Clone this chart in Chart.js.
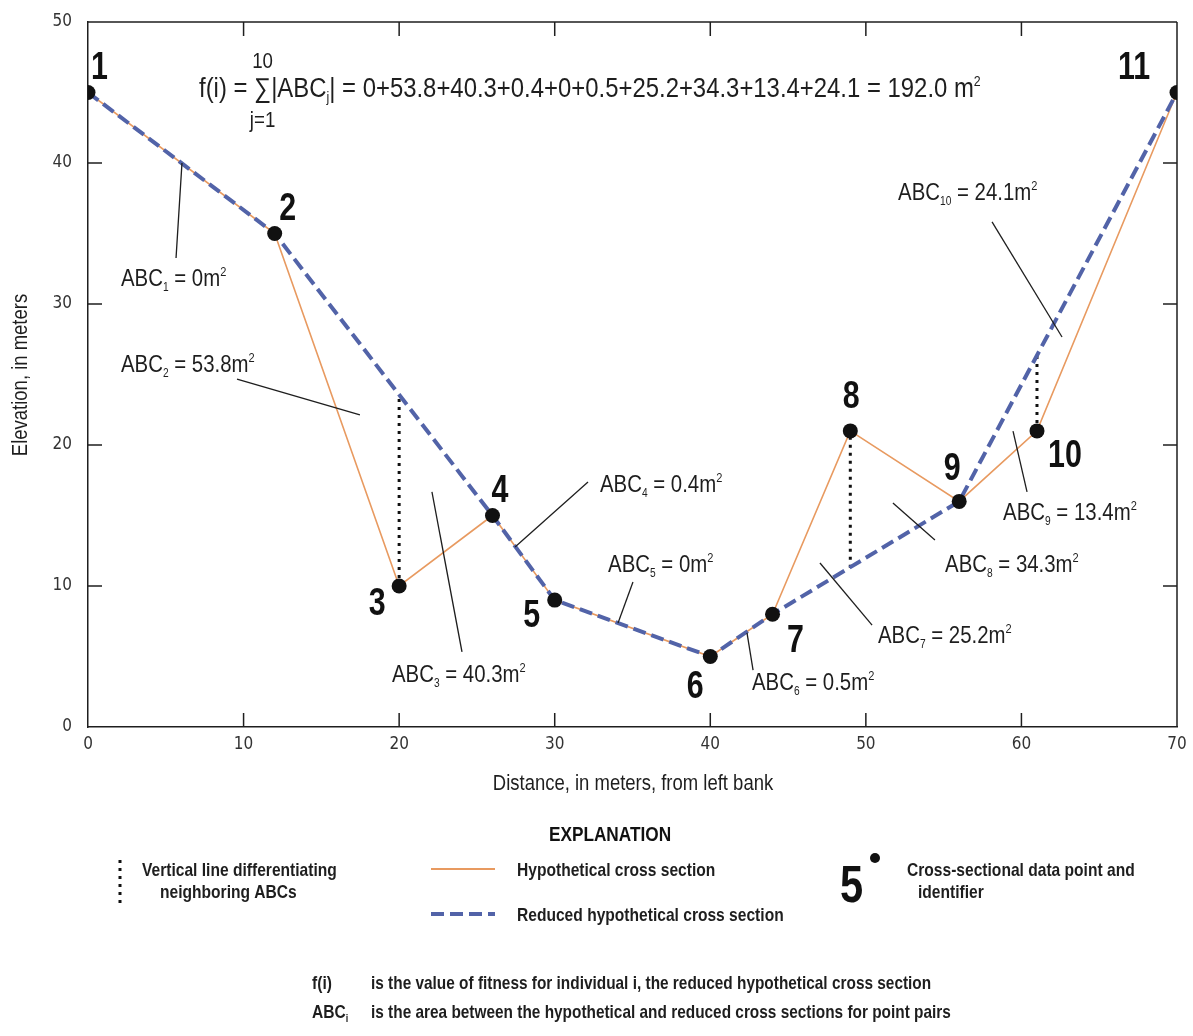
<!DOCTYPE html>
<html><head><meta charset="utf-8">
<script src="https://cdn.jsdelivr.net/npm/chart.js@4.4.1/dist/chart.umd.min.js"></script>
<style>html,body{margin:0;padding:0;background:#fff;}canvas{display:block;}</style>
</head><body>
<canvas id="c" width="1193" height="1036"></canvas>
<script>
// ---------------- DATA ----------------
const pointIds = ['1','2','3','4','5','6','7','8','9','10','11'];
const distance = [0, 12, 20, 26, 30, 40, 44, 49, 56, 61, 70];
const elevation = [45, 35, 10, 15, 9, 5, 8, 21, 16, 21, 45];
const reducedDistance = [0, 12, 26, 30, 40, 44, 56, 70];
const reducedElevation = [45, 35, 15, 9, 5, 8, 16, 45];
const dividerDistance = [20, 49, 61];
const dividerLow = [10, 11.3, 21];
const dividerHigh = [23.6, 21, 26.4];
const abcNames = ['1','2','3','4','5','6','7','8','9','10'];
const abcValues = ['0','53.8','40.3','0.4','0','0.5','25.2','34.3','13.4','24.1'];
const fitnessTotal = '192.0';
const xTicks = [0, 10, 20, 30, 40, 50, 60, 70];
const yTicks = [0, 10, 20, 30, 40, 50];

// ---------------- ANNOTATION LAYOUT ----------------
const numberOffsets = [[11.5,-13.5],[13,-13.5],[-22,29],[7.5,-13.5],[-23,27],[-15,41],[23,38],[1,-23],[-7,-21],[28,36],[-43,-13.5]];
const abcLabelPos = [[2.12,31.28],[2.12,25.18],[19.54,3.19],[32.91,16.67],[33.43,10.99],[42.68,2.62],[50.78,5.96],[55.09,10.99],[58.82,14.68],[52.07,37.38]];
const abcLeaders = [[6.04,40.0,5.66,33.26],[9.58,24.68,17.48,22.13],[22.11,16.67,24.04,5.32],[27.45,12.77,32.14,17.38],[35.03,10.28,34.07,7.38],[42.36,6.67,42.75,4.04],[47.05,11.63,50.40,7.23],[51.74,15.89,54.44,13.26],[59.46,20.99,60.36,16.67],[58.11,35.82,62.61,27.66]];

const FONT = "'Liberation Sans', Arial, sans-serif";
const TICKFONT = "'Liberation Sans Narrow','DejaVu Sans Condensed','Liberation Sans',sans-serif";
const SX = 0.85;
const ORANGE = '#E89A60';
const BLUE = '#5263A8';
const INK = '#1e1e1e';

function drawRich(ctx, segs, x, y, opts) {
  opts = opts || {};
  const sx = opts.sx || SX;
  const align = opts.align || 'left';
  const widths = segs.map(s => { ctx.font = (s.weight||'normal') + ' ' + s.size + 'px ' + FONT; return ctx.measureText(s.t).width * sx; });
  const total = widths.reduce((a,b)=>a+b,0);
  let cx = align === 'center' ? x - total/2 : (align === 'right' ? x - total : x);
  const pos = [];
  segs.forEach((s,i) => {
    ctx.save();
    ctx.font = (s.weight||'normal') + ' ' + s.size + 'px ' + FONT;
    ctx.fillStyle = s.color || opts.color || INK;
    ctx.textBaseline = 'alphabetic';
    ctx.translate(cx, y + (s.dy||0));
    ctx.scale(sx, 1);
    ctx.fillText(s.t, 0, 0);
    ctx.restore();
    pos.push({x: cx, w: widths[i]});
    cx += widths[i];
  });
  return pos;
}
function line(ctx, x1, y1, x2, y2, w, color, dash) {
  ctx.save(); ctx.beginPath(); ctx.lineWidth = w; ctx.strokeStyle = color; ctx.setLineDash(dash || []);
  ctx.moveTo(x1, y1); ctx.lineTo(x2, y2); ctx.stroke(); ctx.restore();
}

const decor = {
  id: 'decor',
  beforeDatasetsDraw(chart) {
    const {ctx, chartArea: a, scales: {x, y}} = chart;
    line(ctx, a.left, a.top, a.right, a.top, 1.5, INK);
    line(ctx, a.right, a.top, a.right, a.bottom, 1.5, INK);
    const TL = 14;
    xTicks.forEach(v => { if (v === x.min || v === x.max) return; const px = x.getPixelForValue(v);
      line(ctx, px, a.bottom, px, a.bottom - TL, 1.5, INK); line(ctx, px, a.top, px, a.top + TL, 1.5, INK); });
    yTicks.forEach(v => { if (v === y.min || v === y.max) return; const py = y.getPixelForValue(v);
      line(ctx, a.left, py, a.left + TL, py, 1.5, INK); line(ctx, a.right, py, a.right - TL, py, 1.5, INK); });
  },
  afterDatasetsDraw(chart) {
    const {ctx, scales: {x, y}} = chart;
    abcLeaders.forEach(l => line(ctx, x.getPixelForValue(l[0]), y.getPixelForValue(l[1]), x.getPixelForValue(l[2]), y.getPixelForValue(l[3]), 1.3, INK));
    abcNames.forEach((n, i) => {
      const px = x.getPixelForValue(abcLabelPos[i][0]), py = y.getPixelForValue(abcLabelPos[i][1]);
      drawRich(ctx, [{t:'ABC', size:24}, {t:n, size:12, dy:5}, {t:' = ' + abcValues[i] + 'm', size:24}, {t:'2', size:13, dy:-10}], px, py);
    });
    pointIds.forEach((id, i) => {
      const px = x.getPixelForValue(distance[i]) + numberOffsets[i][0];
      const py = y.getPixelForValue(elevation[i]) + numberOffsets[i][1];
      drawRich(ctx, [{t:id, size:38, weight:'bold'}], px, py, {align:'center', sx:0.8, color:'#111'});
    });
    const pos = drawRich(ctx, [
      {t:'f(i) = ', size:27}, {t:'\u2211', size:27}, {t:'|ABC', size:27}, {t:'j', size:14, dy:5},
      {t:'| = ' + abcValues.join('+') + ' = ' + fitnessTotal + ' m', size:27}, {t:'2', size:14, dy:-11}
    ], 199, 97, {sx:0.885});
    const sc = pos[1].x + pos[1].w/2;
    drawRich(ctx, [{t:'10', size:22}], sc, 68, {align:'center'});
    drawRich(ctx, [{t:'j=1', size:22}], sc, 127, {align:'center'});
  },
  afterDraw(chart) {
    const {ctx} = chart;
    drawRich(ctx, [{t:'Distance, in meters, from left bank', size:22}], 633, 790, {align:'center', sx:0.84});
    ctx.save(); ctx.translate(20, 375); ctx.rotate(-Math.PI/2);
    drawRich(ctx, [{t:'Elevation, in meters', size:22}], 0, 7, {align:'center', sx:0.84});
    ctx.restore();
    const LB = {size:19, weight:'bold'};
    const L = {sx:0.82};
    drawRich(ctx, [{t:'EXPLANATION', size:21, weight:'bold'}], 610, 841, {align:'center', sx:0.82, color:'#111'});
    line(ctx, 120, 860, 120, 906, 3, '#111', [3, 5]);
    drawRich(ctx, [Object.assign({t:'Vertical line differentiating'}, LB)], 142, 876, L);
    drawRich(ctx, [Object.assign({t:'neighboring ABCs'}, LB)], 160, 898, L);
    line(ctx, 431, 869, 495, 869, 1.8, ORANGE);
    drawRich(ctx, [Object.assign({t:'Hypothetical cross section'}, LB)], 517, 876, L);
    line(ctx, 431, 914, 495, 914, 4, BLUE, [13, 6]);
    drawRich(ctx, [Object.assign({t:'Reduced hypothetical cross section'}, LB)], 517, 921, L);
    drawRich(ctx, [{t:'5', size:52, weight:'bold'}], 840, 902, {sx:0.8, color:'#111'});
    ctx.save(); ctx.beginPath(); ctx.arc(875, 858, 5, 0, Math.PI*2); ctx.fillStyle = '#111'; ctx.fill(); ctx.restore();
    drawRich(ctx, [Object.assign({t:'Cross-sectional data point and'}, LB)], 907, 876, L);
    drawRich(ctx, [Object.assign({t:'identifier'}, LB)], 918, 898, L);
    drawRich(ctx, [Object.assign({t:'f(i)'}, LB)], 312, 989, L);
    drawRich(ctx, [Object.assign({t:'is the value of fitness for individual i, the reduced hypothetical cross section'}, LB)], 371, 989, {sx:0.81});
    drawRich(ctx, [Object.assign({t:'ABC'}, LB), {t:'i', size:11, weight:'bold', dy:4}], 312, 1018, L);
    drawRich(ctx, [Object.assign({t:'is the area between the hypothetical and reduced cross sections for point pairs'}, LB)], 371, 1018, {sx:0.81});
  }
};

const toXY = (xs, ys) => xs.map((v, i) => ({x: v, y: ys[i]}));
const dividerSets = dividerDistance.map((d, i) => ({
  label: 'divider' + (i+1), data: [{x: d, y: dividerLow[i]}, {x: d, y: dividerHigh[i]}],
  showLine: true, borderColor: '#111', borderWidth: 3, borderDash: [3, 5], pointRadius: 0, order: 3
}));

new Chart(document.getElementById('c'), {
  type: 'scatter',
  data: {
    datasets: [
      {label: 'Cross-sectional data point', data: toXY(distance, elevation), pointRadius: 7.5, pointHoverRadius: 7.5,
       backgroundColor: '#111', borderWidth: 0, showLine: false, order: 0},
      {label: 'Reduced hypothetical cross section', data: toXY(reducedDistance, reducedElevation), showLine: true,
       borderColor: BLUE, borderWidth: 4, borderDash: [13, 6], pointRadius: 0, order: 1},
      {label: 'Hypothetical cross section', data: toXY(distance, elevation), showLine: true,
       borderColor: ORANGE, borderWidth: 1.6, pointRadius: 0, order: 2},
      ...dividerSets
    ]
  },
  options: {
    responsive: false, animation: false, devicePixelRatio: 1,
    layout: {padding: {left: 0, right: 16, top: 22, bottom: 1036 - 727 - 40}},
    plugins: {legend: {display: false}, tooltip: {enabled: false}},
    scales: {
      x: {type: 'linear', min: 0, max: 70,
          afterBuildTicks: s => { s.ticks = xTicks.map(v => ({value: v})); },
          afterFit: s => { s.height = 40; s.paddingLeft = 0; s.paddingRight = 0; },
          ticks: {font: {family: TICKFONT, size: 17}, color: '#333', padding: 7, maxRotation: 0},
          grid: {display: false, drawTicks: false},
          border: {display: true, color: INK, width: 1.5}},
      y: {type: 'linear', min: 0, max: 50,
          afterBuildTicks: s => { s.ticks = yTicks.map(v => ({value: v})); },
          afterFit: s => { s.width = 88; s.paddingTop = 0; s.paddingBottom = 0; },
          ticks: {font: {family: TICKFONT, size: 17}, color: '#333', padding: 16},
          grid: {display: false, drawTicks: false},
          border: {display: true, color: INK, width: 1.5}}
    }
  },
  plugins: [decor]
});
</script>
</body></html>
